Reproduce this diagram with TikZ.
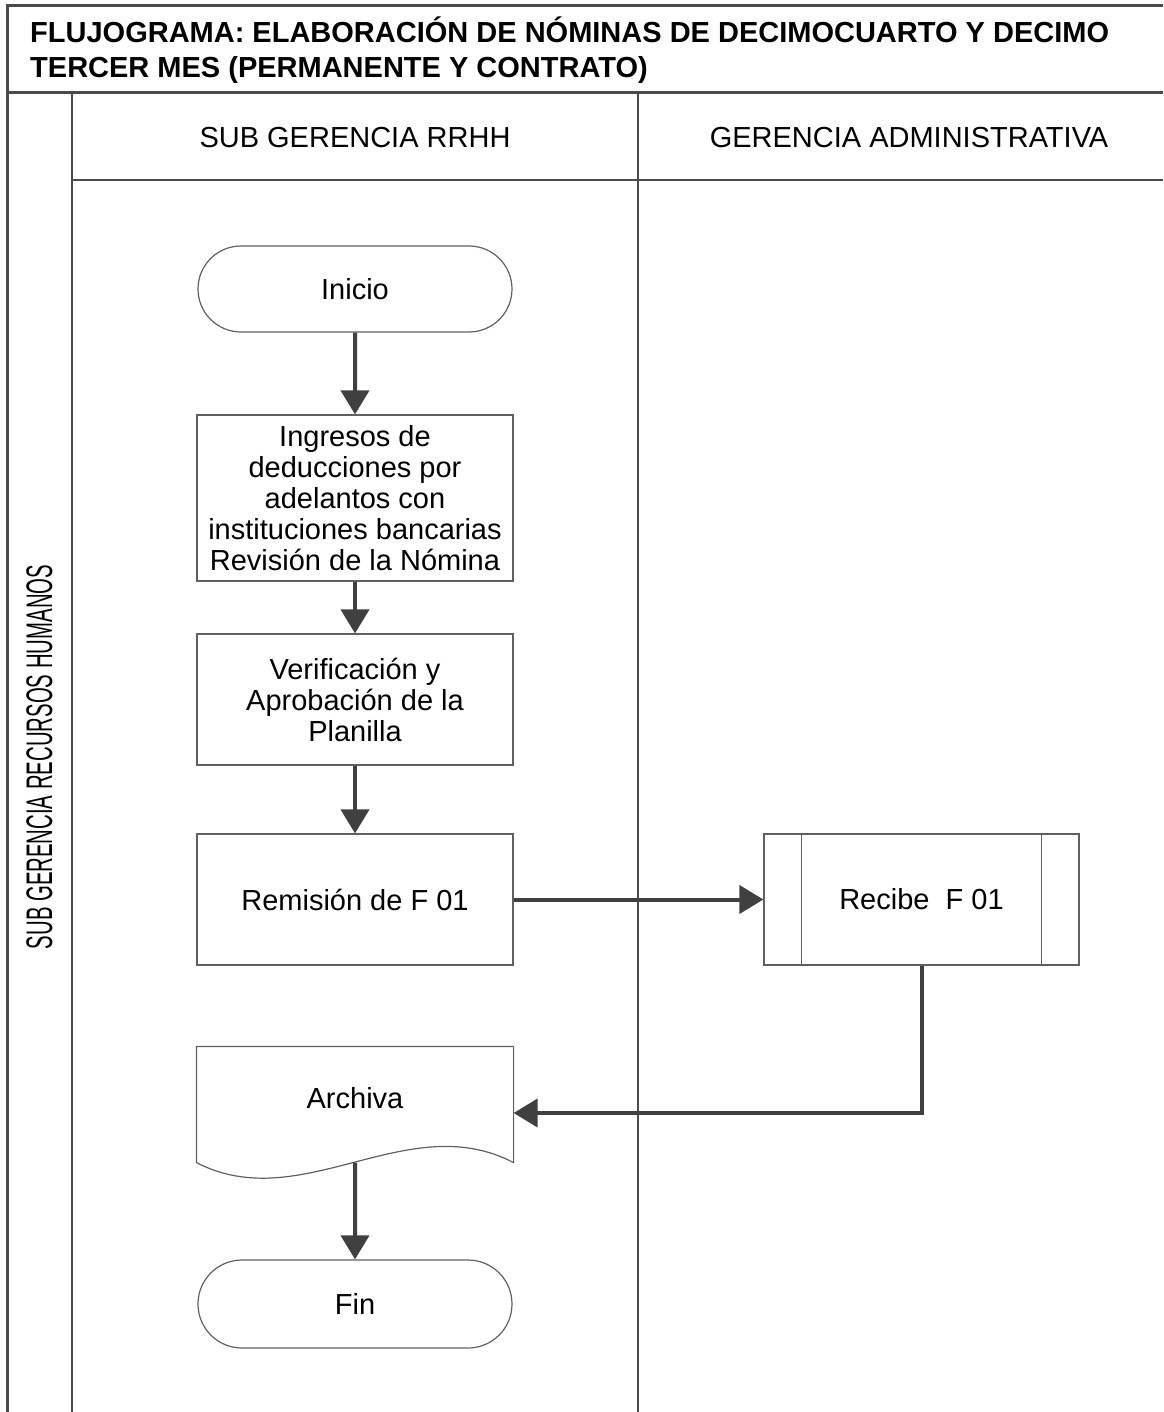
\documentclass[tikz,border=0pt]{standalone}
\usepackage{fontspec}
\setmainfont{Liberation Sans}
\newfontfamily\lanefont[FakeStretch=0.55]{Liberation Sans}
\usetikzlibrary{arrows.meta,shapes.misc}
\definecolor{linegray}{HTML}{404040}
\definecolor{framegray}{HTML}{4A4A4A}
\definecolor{boxgray}{HTML}{606060}
\tikzset{
  box/.style={draw=boxgray, line width=1.2pt, minimum width=316pt, align=center,
    inner sep=0pt, font=\fontsize{29}{31}\selectfont},
  term/.style={box, rounded rectangle, minimum width=314pt, minimum height=86pt},
  flow/.style={draw=linegray, line width=4pt, -{Triangle[length=24pt,width=28pt]}},
  frame/.style={draw=framegray, line width=3pt},
  lane/.style={draw=framegray, line width=2.5pt},
  head/.style={inner sep=0pt, font=\fontsize{29}{31}\selectfont},
  titletext/.style={anchor=base west, inner sep=0pt, font=\bfseries\fontsize{29}{35}\selectfont}
}
\begin{document}
\begin{tikzpicture}[x=1pt,y=-1pt]
\useasboundingbox (0,0) rectangle (1163,1412);

% frame and lanes
\draw[frame] (7.5,1412) -- (7.5,6) -- (1163,6);
\draw[frame] (7.5,93) -- (1163,93);
\draw[lane] (72,93) -- (72,1412);
\draw[lane] (638,93) -- (638,1412);
\draw[lane] (72,180) -- (1163,180);

\node[titletext] (title1) at (30,43) {FLUJOGRAMA: ELABORACIÓN DE NÓMINAS DE DECIMOCUARTO Y DECIMO};
\node[titletext] (title2) at (30,78) {TERCER MES (PERMANENTE Y CONTRATO)};

\node[head] (rrhh) at (355,138) {SUB GERENCIA RRHH};
\node[head] (admin) at (909,138) {GERENCIA ADMINISTRATIVA};
\node[inner sep=0pt, rotate=90, font=\lanefont\fontsize{37}{40}\selectfont] (lanename) at (39.5,757) {SUB GERENCIA RECURSOS HUMANOS};

% steps
\node[term] (inicio) at (355,289) {Inicio};
\node[box, minimum height=166pt] (ingresos) at (355,498)
  {Ingresos de\\deducciones por\\adelantos con\\instituciones bancarias\\Revisión de la Nómina};
\node[box, minimum height=131pt] (verif) at (355,699.5)
  {Verificación y\\Aprobación de la\\Planilla};
\node[box, minimum height=131pt] (remision) at (355,899.5) {Remisión de F 01};
\node[box, minimum width=315pt, minimum height=131pt] (recibe) at (921.5,899.5) {Recibe~~F 01};
\draw[boxgray, line width=1.2pt] ([xshift=38pt]recibe.north west) -- ([xshift=38pt]recibe.south west)
  ([xshift=-38pt]recibe.north east) -- ([xshift=-38pt]recibe.south east);
\node[box, draw=none, minimum height=128pt] (archiva) at (355,1098) {Archiva};
\draw[boxgray, line width=1.2pt] (archiva.south west) -- ([yshift=-13pt]archiva.north west)
  -- ([yshift=-13pt]archiva.north east) -- (archiva.south east)
  .. controls (407,1107) and (302,1217) .. (archiva.south west);
\node[term, minimum height=88pt] (fin) at (355,1304) {Fin};
\coordinate (archin) at ([yshift=-15pt]archiva.east);

% connectors
\draw[flow] (inicio) -- (ingresos);
\draw[flow] (ingresos) -- (verif);
\draw[flow] (verif) -- (remision);
\draw[flow] (remision) -- (recibe);
\draw[flow] (recibe.south) |- (archin);
\draw[flow] (archiva.south) -- (fin);
\end{tikzpicture}
\end{document}
